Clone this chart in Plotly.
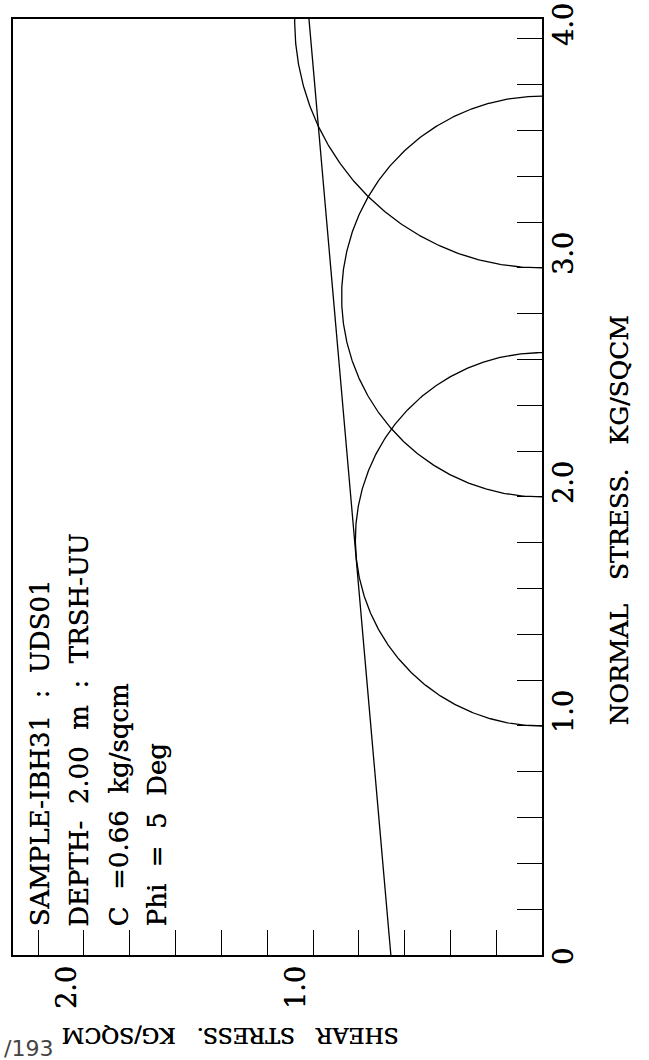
import numpy as np
import plotly.graph_objects as go

# Mohr circles from triaxial UU test: (sigma3, sigma1) in kg/sqcm
sigma3 = [1.0, 2.0, 3.0]
sigma1 = [2.63, 3.75, 5.16]

# Failure envelope parameters
cohesion = 0.66      # kg/sqcm
phi_deg = 5.0        # degrees

# Axis extents and tick labels
normal_max = 4.087
shear_max = 2.31
normal_tick_vals = [0.0, 1.0, 2.0, 3.0, 4.0]
normal_tick_text = ["0", "1.0", "2.0", "3.0", "4.0"]
shear_tick_vals = [1.0, 2.0]
shear_tick_text = ["1.0", "2.0"]

SP = "\u00a0\u00a0"
info_lines = [
    "SAMPLE-IBH31" + SP + ":" + SP + "UDS01",
    "DEPTH-" + SP + "2.00" + SP + "m" + SP + ":" + SP + "TRSH-UU",
    "C" + SP + "=0.66" + SP + "kg/sqcm",
    "Phi" + SP + "=" + SP + "5" + SP + "Deg",
]

SERIF = "DejaVu Serif"
INK = "black"
HEAVY = "0.4px 0 0 black"   # slightly heavier plotter-style strokes

fig = go.Figure()

# Semicircles: shear on x (reversed), normal stress on y
theta = np.linspace(0, np.pi, 361)
for s3, s1 in zip(sigma3, sigma1):
    c = (s1 + s3) / 2.0
    r = (s1 - s3) / 2.0
    fig.add_trace(go.Scatter(
        x=r * np.sin(theta), y=c - r * np.cos(theta),
        mode="lines", line=dict(color=INK, width=1.3),
        hoverinfo="skip", showlegend=False))

# Coulomb envelope tau = c + sigma * tan(phi)
sig_line = np.array([0.0, 5.0])
tau_line = cohesion + sig_line * np.tan(np.radians(phi_deg))
fig.add_trace(go.Scatter(
    x=tau_line, y=sig_line, mode="lines",
    line=dict(color=INK, width=1.3),
    hoverinfo="skip", showlegend=False))

annotations = []
label_font = dict(family=SERIF, size=27, color=INK, shadow=HEAVY)

# Normal stress tick labels (right side, reading upward from the tick)
for v, t in zip(normal_tick_vals, normal_tick_text):
    annotations.append(dict(
        text=t, textangle=-90, xref="paper", x=1.0, xanchor="left", xshift=4,
        yref="y", y=v, yanchor="bottom", yshift=-9 if v > 0 else -12,
        showarrow=False, font=label_font))

# Shear stress tick labels (below the frame)
for v, t in zip(shear_tick_vals, shear_tick_text):
    annotations.append(dict(
        text=t, textangle=-90, xref="x", x=v, xanchor="right", xshift=0,
        yref="paper", y=0.0, yanchor="top", yshift=-9,
        showarrow=False, font=label_font))

# Axis titles
GAP = "\u00a0\u00a0\u00a0"
annotations.append(dict(
    text="NORMAL" + GAP + "STRESS." + GAP + "KG/SQCM", textangle=-90,
    xref="paper", x=1.0, xanchor="left", xshift=60,
    yref="paper", y=(955 - 521) / 936, yanchor="middle",
    showarrow=False, font=dict(family=SERIF, size=25, color=INK, shadow=HEAVY)))
annotations.append(dict(
    text="SHEAR" + GAP + "STRESS." + GAP + "KG/SQCM", textangle=180,
    xref="paper", x=(231 - 13) / 529, xanchor="center",
    yref="paper", y=0.0, yanchor="top", yshift=-66,
    showarrow=False, font=dict(family=SERIF, size=22, color=INK, shadow=HEAVY)))

# Sample information block
line_x = [39, 79, 118, 156]
for xp, txt in zip(line_x, info_lines):
    annotations.append(dict(
        text=txt, textangle=-90, xref="paper", x=(xp - 13) / 529, xanchor="center",
        yref="paper", y=(955 - 929) / 936, yanchor="bottom",
        showarrow=False, font=dict(family=SERIF, size=26, color=INK, shadow=HEAVY)))

# Page number fragment at the lower-left edge
annotations.append(dict(
    text="/193", xref="paper", x=(55 - 13) / 529, xanchor="right",
    yref="paper", y=-(1063 - 955) / 936, yanchor="bottom",
    showarrow=False, font=dict(family="DejaVu Sans", size=22, color="#444444")))

fig.update_layout(
    width=649, height=1060,
    margin=dict(l=13, r=107, t=19, b=105),
    paper_bgcolor="white", plot_bgcolor="white",
    showlegend=False,
    annotations=annotations,
    xaxis=dict(range=[shear_max, 0], showgrid=False, zeroline=False,
               showline=True, mirror=True, linecolor=INK, linewidth=1.6,
               ticks="inside", ticklen=25, tickwidth=1.3, tickcolor=INK,
               tick0=0, dtick=0.2, showticklabels=False, fixedrange=True),
    yaxis=dict(range=[0, normal_max], side="right", showgrid=False, zeroline=False,
               showline=True, mirror=True, linecolor=INK, linewidth=1.6,
               ticks="inside", ticklen=25, tickwidth=1.3, tickcolor=INK,
               tick0=0, dtick=0.2, showticklabels=False, fixedrange=True),
)

fig.write_html("out.html")
